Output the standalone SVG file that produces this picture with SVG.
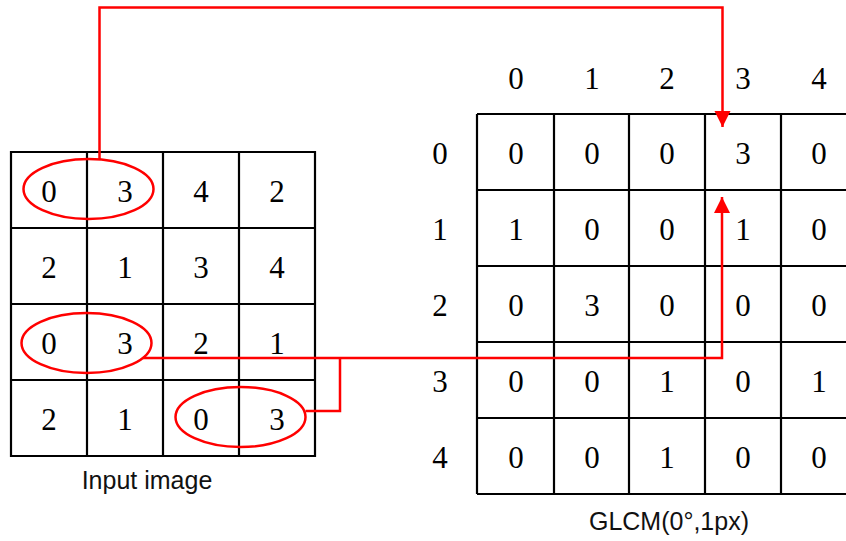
<svg xmlns="http://www.w3.org/2000/svg" width="846" height="541" viewBox="0 0 846 541">
<style>
.grid{fill:none;stroke:#000;stroke-width:2.2}
.num{font-family:"Liberation Serif",serif;font-size:31px;fill:#000;text-anchor:middle}
.lbl{font-family:"Liberation Sans",Arial,sans-serif;font-size:25px;fill:#111;text-anchor:middle}
.red{fill:none;stroke:#ff0000;stroke-width:2.5}
</style>
<defs>
<marker id="ah" markerUnits="userSpaceOnUse" markerWidth="18" markerHeight="18" refX="16" refY="8" orient="auto">
<path d="M0,0 L16,8 L0,16 Z" fill="#ff0000"/>
</marker>
</defs>
<rect width="846" height="541" fill="#fff"/>
<g id="input-image">
<path class="grid" d="M11,152H315V456H11Z M87,152V456 M163,152V456 M239,152V456 M11,228H315 M11,304H315 M11,380H315"/>
<g class="num">
<text x="49" y="202">0</text><text x="125" y="202">3</text><text x="201" y="202">4</text><text x="277" y="202">2</text>
<text x="49" y="278">2</text><text x="125" y="278">1</text><text x="201" y="278">3</text><text x="277" y="278">4</text>
<text x="49" y="354">0</text><text x="125" y="354">3</text><text x="201" y="354">2</text><text x="277" y="354">1</text>
<text x="49" y="430">2</text><text x="125" y="430">1</text><text x="201" y="430">0</text><text x="277" y="430">3</text>
</g>
<text class="lbl" x="147" y="489">Input image</text>
</g>
<g id="glcm">
<path class="grid" d="M477,114H860 M477,190H860 M477,266H860 M477,342H860 M477,418H860 M477,494H860 M477,114V494 M554,114V494 M629,114V494 M705,114V494 M781,114V494"/>
<g class="num">
<text x="516" y="89">0</text><text x="592" y="89">1</text><text x="667" y="89">2</text><text x="743" y="89">3</text><text x="819" y="89">4</text>
<text x="440" y="164">0</text><text x="440" y="240">1</text><text x="440" y="316">2</text><text x="440" y="392">3</text><text x="440" y="468">4</text>
<text x="516" y="164">0</text><text x="592" y="164">0</text><text x="667" y="164">0</text><text x="743" y="164">3</text><text x="819" y="164">0</text>
<text x="516" y="240">1</text><text x="592" y="240">0</text><text x="667" y="240">0</text><text x="743" y="240">1</text><text x="819" y="240">0</text>
<text x="516" y="316">0</text><text x="592" y="316">3</text><text x="667" y="316">0</text><text x="743" y="316">0</text><text x="819" y="316">0</text>
<text x="516" y="392">0</text><text x="592" y="392">0</text><text x="667" y="392">1</text><text x="743" y="392">0</text><text x="819" y="392">1</text>
<text x="516" y="468">0</text><text x="592" y="468">0</text><text x="667" y="468">1</text><text x="743" y="468">0</text><text x="819" y="468">0</text>
</g>
<text class="lbl" x="669" y="530">GLCM(0°,1px)</text>
</g>
<g id="pairs">
<ellipse class="red" cx="88.5" cy="189" rx="65" ry="30"/>
<ellipse class="red" cx="86.5" cy="343" rx="65" ry="30"/>
<ellipse class="red" cx="240.5" cy="417" rx="65" ry="30"/>
</g>
<g id="connectors">
<path class="red" d="M99.5,159V7.5H722.5V127" marker-end="url(#ah)"/>
<path class="red" d="M143,358H722V197" marker-end="url(#ah)"/>
<path class="red" d="M305.5,411H340V358"/>
</g>
</svg>
